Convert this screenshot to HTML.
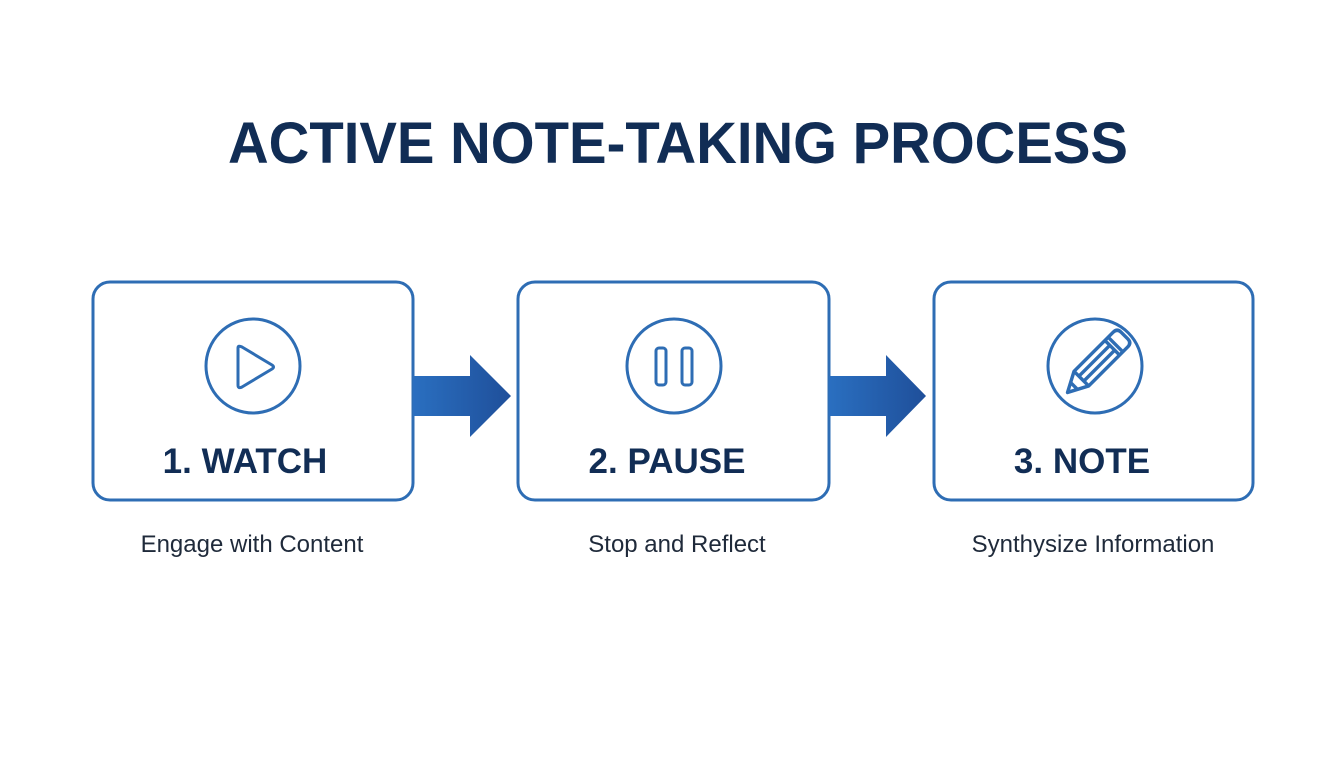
<!DOCTYPE html>
<html><head><meta charset="utf-8"><style>
html,body{margin:0;padding:0;background:#fff;}
svg{display:block;}
</style></head><body>
<svg width="1344" height="768" viewBox="0 0 1344 768" xmlns="http://www.w3.org/2000/svg">
<defs>
<linearGradient id="g" x1="0" x2="1" y1="0" y2="0">
<stop offset="0" stop-color="#2a6fc0"/><stop offset="1" stop-color="#1f4f9a"/>
</linearGradient>
</defs>
<rect width="1344" height="768" fill="#fff"/>
<text x="228" y="163" textLength="900" lengthAdjust="spacingAndGlyphs" font-family="Liberation Sans, sans-serif" font-weight="bold" font-size="58" fill="#112d55">ACTIVE NOTE-TAKING PROCESS</text>

<g fill="#fff" stroke="#2e6db4" stroke-width="3">
<rect x="93" y="282" width="320" height="218" rx="17"/>
<rect x="518" y="282" width="311" height="218" rx="17"/>
<rect x="934" y="282" width="319" height="218" rx="17"/>
</g>

<polygon points="413,376 470,376 470,355 511,396 470,437 470,416 413,416" fill="url(#g)"/>
<polygon points="829,376 886,376 886,355 926,396 886,437 886,416 829,416" fill="url(#g)"/>

<g fill="none" stroke="#2e6db4" stroke-width="3" stroke-linejoin="round">
<circle cx="253" cy="366" r="47"/>
<path d="M238,348 L238,385 Q238,389 242,387 L272,369 Q275,367 272,365 L242,347 Q238,345 238,348 Z"/>
<circle cx="674" cy="366" r="47"/>
<rect x="656" y="348" width="10" height="37" rx="3"/>
<rect x="682" y="348" width="10" height="37" rx="3"/>
<circle cx="1095" cy="366" r="47"/>
<g transform="translate(1096,364) rotate(45) scale(1.15)">
<path d="M-9,-30 Q-9,-35 -4,-35 L4,-35 Q9,-35 9,-30 L9,18 L0,35 L-9,18 Z"/>
<line x1="-9" y1="-24" x2="9" y2="-24"/>
<line x1="-9" y1="-20" x2="9" y2="-20"/>
<line x1="-3" y1="-20" x2="-3" y2="18"/>
<line x1="3" y1="-20" x2="3" y2="18"/>
<line x1="-9" y1="18" x2="9" y2="18"/>
<path d="M-4,27 L4,27"/>
</g>
</g>

<g font-family="Liberation Sans, sans-serif" font-weight="bold" font-size="35" fill="#112d55" text-anchor="middle">
<text x="245" y="473">1. WATCH</text>
<text x="667" y="473">2. PAUSE</text>
<text x="1082" y="473">3. NOTE</text>
</g>
<g font-family="Liberation Sans, sans-serif" font-size="24" fill="#1f2a3a" text-anchor="middle">
<text x="252" y="552">Engage with Content</text>
<text x="677" y="552">Stop and Reflect</text>
<text x="1093" y="552">Synthysize Information</text>
</g>
</svg>
</body></html>
